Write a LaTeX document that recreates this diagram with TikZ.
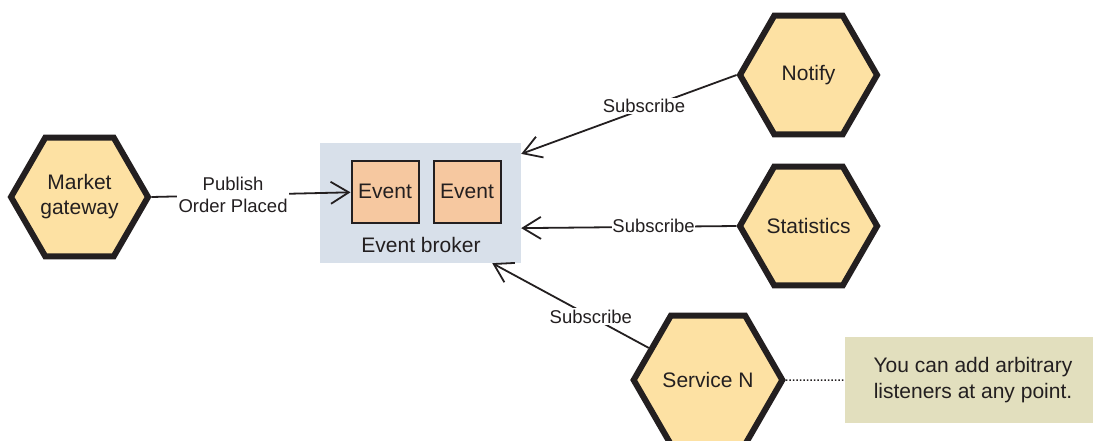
\documentclass[tikz,border=0pt]{standalone}
\usepackage{fontspec}
\setmainfont{Liberation Sans}
\usetikzlibrary{shapes.geometric,arrows.meta}
\definecolor{ink}{HTML}{231F20}
\definecolor{hexfill}{HTML}{FDE1A3}
\definecolor{evfill}{HTML}{F6C8A0}
\definecolor{brokerfill}{HTML}{D8E0EA}
\definecolor{notefill}{HTML}{E2DFBE}
\begin{document}
\begin{tikzpicture}[x=1pt,y=-1pt,
  hexnode/.style={regular polygon, regular polygon sides=6, minimum size=137pt, inner sep=0pt,
    draw=ink, line width=6pt, fill=hexfill, text=ink, align=center,
    font=\fontsize{21}{25}\selectfont},
  evbox/.style={rectangle, draw=ink, line width=2pt, fill=evfill, minimum width=67pt,
    minimum height=62pt, inner sep=0pt, text=ink, font=\fontsize{21}{25}\selectfont},
  lbl/.style={fill=white, inner sep=1.5pt, text=ink, font=\fontsize{18.5}{22}\selectfont},
  conn/.style={draw=ink, line width=1.8pt, -{Straight Barb[length=18pt,width=22pt]}},
  note/.style={rectangle, fill=notefill, minimum width=248pt, minimum height=86pt, inner sep=0pt,
    align=center, text=ink, font=\fontsize{21}{26}\selectfont}
]
\useasboundingbox (0,0) rectangle (1094,440);
\fill[white] (0,0) rectangle (1094,440);

\node[hexnode] (gw) at (79.5,197) {Market\\gateway};
\node[hexnode] (notify) at (808.5,75) {Notify};
\node[hexnode] (stats) at (808.5,226) {Statistics};
\node[hexnode] (svc) at (708,380) {Service N};

\node[rectangle, fill=brokerfill, minimum width=201pt, minimum height=120pt, inner sep=0pt] (broker) at (420.5,203) {};
\node[evbox] (ev1) at (385,192.3) {\raisebox{3pt}{Event}};
\node[evbox] (ev2) at (467,192.3) {\raisebox{3pt}{Event}};
\node[anchor=base, text=ink, font=\fontsize{21}{25}\selectfont] (brokerlbl) at (421,252) {Event broker};

\draw[conn] (gw.east) -- node[lbl, pos=0.41, align=center] {Publish\\Order Placed} (ev1.west);
\draw[conn] (notify.west) -- node[lbl, pos=0.43, yshift=3pt] {Subscribe} (broker.26);
\draw[conn] (stats.west) -- node[lbl, pos=0.385, inner sep=0.5pt, yshift=1pt] {Subscribe} (broker.-14);
\draw[conn] (svc) -- node[lbl, pos=0.37] {Subscribe} (broker.-40);

\node[note] (callout) at (969,380) {\hspace*{8pt}You can add arbitrary\\\hspace*{8pt}listeners at any point.};
\draw[ink, line width=1.5pt, dotted] (svc.east) -- (callout.west);
\end{tikzpicture}
\end{document}
